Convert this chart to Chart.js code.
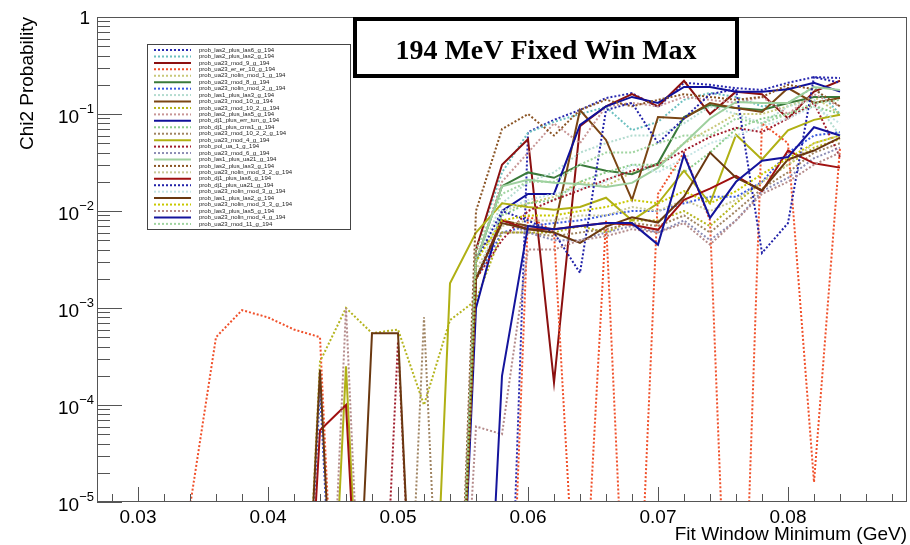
<!DOCTYPE html>
<html>
<head>
<meta charset="UTF-8">
<title>194 MeV Fixed Win Max</title>
<script src="https://cdn.jsdelivr.net/npm/chart.js"></script>
<style>
    body { margin: 0; background: #fff; }
    #wrap { width: 910px; height: 545px; position: relative; }
</style>
</head>
<body>
<div id="wrap"><canvas id="chi2Chart"></canvas></div>
<script>
// values below 1e-5 sit under the axis; LO keeps the line going down off the frame
const LO = 1e-9;

const fitWinMin = [0.034, 0.036, 0.038, 0.040, 0.042, 0.044, 0.046, 0.048, 0.050, 0.052, 0.054, 0.056, 0.058,
                   0.060, 0.062, 0.064, 0.066, 0.068, 0.070, 0.072, 0.074, 0.076, 0.078, 0.080, 0.082, 0.084];

const las2_plus_las6      = [LO, LO, LO, LO, LO, LO, LO, LO, LO, LO, LO, LO, LO, 0.065, 0.087, 0.11, 0.146, 0.164, 0.118, 0.21, 0.2, 0.185, 0.177, 0.21, 0.24, 0.235];
const las2_plus_las2      = [LO, LO, LO, LO, LO, LO, LO, LO, LO, LO, LO, 0.004, 0.025, 0.064, 0.083, 0.1, 0.118, 0.068, 0.083, 0.14, 0.165, 0.15, 0.12, 0.13, 0.19, 0.1];
const ua23_mod_9          = [LO, LO, LO, LO, LO, LO, LO, LO, LO, LO, LO, 0.004, 0.03, 0.055, 1.7e-4, 0.075, 0.12, 0.16, 0.12, 0.22, 0.1, 0.17, 0.16, 0.09, 0.17, 0.22];
const ua23_er_er_10       = [9e-6, 5e-4, 9.5e-4, 8e-4, 6e-4, 5e-4, LO, LO, LO, LO, LO, LO, LO, 0.009, 0.006, 1e-7, 0.008, 1e-8, 0.015, 0.04, 0.008, LO, 0.08, 0.05, 1.6e-5, 0.045];
const ua23_nolin_mod_1    = [LO, LO, LO, LO, LO, LO, LO, LO, LO, LO, LO, 0.002, 0.01, 0.012, 0.014, 0.02, 0.018, 0.025, 0.03, 0.05, 0.07, 0.1, 0.1, 0.12, 0.15, 0.1];
const ua23_mod_8          = [LO, LO, LO, LO, LO, LO, LO, LO, LO, LO, LO, 0.003, 0.018, 0.025, 0.022, 0.03, 0.026, 0.024, 0.031, 0.093, 0.124, 0.115, 0.11, 0.13, 0.15, 0.15];
const ua23_nolin_mod_2    = [LO, LO, LO, LO, LO, 1.4e-4, LO, LO, LO, LO, LO, 0.002, 0.006, 0.007, 0.0075, 0.008, 0.009, 0.01, 0.01, 0.012, 0.014, 0.014, 0.02, 0.04, 0.06, 0.065];
const las1_plus_las3      = [LO, LO, LO, LO, LO, LO, LO, LO, LO, LO, LO, 0.003, 0.012, 0.02, 0.025, 0.04, 0.05, 0.06, 0.06, 0.08, 0.12, 0.1, 0.08, 0.12, 0.14, 0.06];
const ua23_mod_10         = [LO, LO, LO, LO, LO, LO, LO, LO, LO, LO, LO, 0.002, 0.008, 0.007, 0.0065, 0.11, 0.054, 0.013, 0.093, 0.09, 0.13, 0.115, 0.105, 0.185, 0.13, 0.146];
const ua23_mod_10_2       = [LO, LO, LO, LO, LO, 2.8e-4, 1e-3, 5.5e-4, 6e-4, 1e-4, 7.5e-4, 1.2e-3, 0.006, 0.006, 0.006, 0.007, 0.006, 0.008, 0.008, 0.01, 0.007, 0.012, 0.02, 0.03, 0.045, 0.055];
const las2_plus_las5      = [LO, LO, LO, LO, LO, LO, LO, LO, LO, LO, LO, 0.003, 0.02, 0.04, 0.08, 0.05, 0.12, 0.13, 0.12, 0.15, 0.14, 0.13, 0.15, 0.1, 0.16, 0.12];
const dj1_plus_err_tun    = [LO, LO, LO, LO, LO, LO, LO, LO, LO, LO, LO, 0.001, 0.01, 0.015, 0.015, 0.077, 0.12, 0.15, 0.13, 0.19, 0.19, 0.17, 0.17, 0.18, 0.21, 0.17];
const dj1_plus_cms1       = [LO, LO, LO, LO, LO, LO, LO, LO, LO, LO, LO, 0.002, 0.009, 0.012, 0.013, 0.02, 0.025, 0.03, 0.03, 0.025, 0.04, 0.07, 0.09, 0.1, 0.12, 0.1];
const ua23_mod_10_2_2     = [LO, LO, LO, LO, LO, LO, LO, LO, LO, 8e-4, LO, 0.004, 0.006, 0.006, 0.0055, 0.006, 0.0065, 0.0075, 0.007, 0.009, 0.006, 0.01, 0.017, 0.025, 0.04, 0.05];
const ua23_mod_4          = [LO, LO, LO, LO, LO, LO, 2.5e-4, LO, LO, LO, 0.0018, 0.006, 0.012, 0.011, 0.0103, 0.011, 0.0137, 0.008, 0.012, 0.026, 0.012, 0.061, 0.034, 0.068, 0.087, 0.098];
const pol_ua_1            = [LO, LO, LO, LO, LO, LO, LO, LO, 4.5e-4, LO, LO, 0.002, 0.005, 0.01, 0.013, 0.0164, 0.021, 0.026, 0.03, 0.042, 0.058, 0.072, 0.065, 0.09, 0.13, 0.036];
const ua23_mod_6          = [LO, LO, LO, LO, LO, LO, LO, LO, LO, LO, LO, 0.002, 0.008, 0.006, 0.005, 0.005, 0.006, 0.007, 0.006, 0.008, 0.005, 0.008, 0.016, 0.022, 0.035, 0.045];
const las1_plus_ua21      = [LO, LO, LO, LO, LO, LO, LO, LO, LO, LO, LO, 0.003, 0.018, 0.021, 0.0195, 0.019, 0.0177, 0.0195, 0.028, 0.05, 0.09, 0.133, 0.13, 0.13, 0.19, 0.177];
const las2_plus_las3      = [LO, LO, LO, LO, LO, LO, LO, LO, LO, LO, LO, 0.01, 0.07, 0.1, 0.06, 0.11, 0.14, 0.12, 0.14, 0.16, 0.15, 0.14, 0.15, 0.2, 0.18, 0.12];
const ua23_nolin_mod_3_2  = [LO, LO, LO, LO, LO, LO, LO, LO, LO, LO, LO, 0.0025, 0.007, 0.008, 0.008, 0.009, 0.009, 0.011, 0.01, 0.013, 0.01, 0.013, 0.02, 0.03, 0.05, 0.06];
const dj1_plus_las6       = [LO, LO, LO, LO, LO, 5.5e-5, 1e-4, LO, LO, LO, LO, 0.002, 0.008, 0.0065, 0.0065, 0.007, 0.0075, 0.0072, 0.0064, 0.013, 0.017, 0.023, 0.016, 0.042, 0.031, 0.028];
const dj1_plus_ua21       = [LO, LO, LO, LO, LO, LO, LO, LO, LO, LO, LO, 0.003, 0.01, 0.008, 0.006, 0.0023, 0.11, 0.13, 0.05, 0.09, 0.16, 0.18, 0.0037, 0.0075, 0.24, 0.21];
const ua23_nolin_mod_3    = [LO, LO, LO, LO, LO, LO, LO, LO, LO, LO, LO, 0.002, 0.01, 0.013, 0.015, 0.017, 0.02, 0.03, 0.025, 0.035, 0.05, 0.06, 0.075, 0.09, 0.12, 0.08];
const las1_plus_las2      = [LO, LO, LO, LO, LO, 2.3e-4, LO, 5.5e-4, 5.5e-4, LO, LO, 0.002, 0.0075, 0.0065, 0.006, 0.0047, 0.0069, 0.0086, 0.0076, 0.014, 0.04, 0.022, 0.0164, 0.034, 0.042, 0.057];
const ua23_nolin_mod_3_3  = [LO, LO, LO, LO, LO, LO, LO, LO, LO, LO, LO, 0.003, 0.008, 0.009, 0.009, 0.01, 0.011, 0.013, 0.012, 0.016, 0.012, 0.016, 0.024, 0.035, 0.05, 0.06];
const las3_plus_las5      = [LO, LO, LO, LO, LO, LO, 1e-3, LO, LO, LO, LO, 6e-5, 5e-5, 0.004, 0.004, 0.005, 0.0055, 0.0065, 0.006, 0.0075, 0.0045, 0.008, 0.015, 0.02, 0.03, 0.04];
const ua23_nolin_mod_4    = [LO, LO, LO, LO, LO, LO, LO, LO, LO, LO, LO, LO, 2e-4, 0.007, 0.0065, 0.007, 0.0075, 0.0075, 0.0045, 0.038, 0.0085, 0.02, 0.033, 0.036, 0.073, 0.06];
const ua23_mod_11         = [LO, LO, LO, LO, LO, LO, LO, LO, LO, LO, LO, 0.004, 0.015, 0.02, 0.02, 0.03, 0.04, 0.04, 0.05, 0.06, 0.06, 0.09, 0.08, 0.1, 0.13, 0.14];

const seriesNames = [
    'prob_las2_plus_las6_g_194', 'prob_las2_plus_las2_g_194', 'prob_ua23_mod_9_g_194', 'prob_ua23_er_er_10_g_194',
    'prob_ua23_nolin_mod_1_g_194', 'prob_ua23_mod_8_g_194', 'prob_ua23_nolin_mod_2_g_194', 'prob_las1_plus_las3_g_194',
    'prob_ua23_mod_10_g_194', 'prob_ua23_mod_10_2_g_194', 'prob_las2_plus_las5_g_194', 'prob_dj1_plus_err_tun_g_194',
    'prob_dj1_plus_cms1_g_194', 'prob_ua23_mod_10_2_2_g_194', 'prob_ua23_mod_4_g_194', 'prob_pol_ua_1_g_194',
    'prob_ua23_mod_6_g_194', 'prob_las1_plus_ua21_g_194', 'prob_las2_plus_las3_g_194', 'prob_ua23_nolin_mod_3_2_g_194',
    'prob_dj1_plus_las6_g_194', 'prob_dj1_plus_ua21_g_194', 'prob_ua23_nolin_mod_3_g_194', 'prob_las1_plus_las2_g_194',
    'prob_ua23_nolin_mod_3_3_g_194', 'prob_las3_plus_las5_g_194', 'prob_ua23_nolin_mod_4_g_194', 'prob_ua23_mod_11_g_194'
];
const seriesData = [
    las2_plus_las6, las2_plus_las2, ua23_mod_9, ua23_er_er_10, ua23_nolin_mod_1, ua23_mod_8, ua23_nolin_mod_2,
    las1_plus_las3, ua23_mod_10, ua23_mod_10_2, las2_plus_las5, dj1_plus_err_tun, dj1_plus_cms1, ua23_mod_10_2_2,
    ua23_mod_4, pol_ua_1, ua23_mod_6, las1_plus_ua21, las2_plus_las3, ua23_nolin_mod_3_2, dj1_plus_las6,
    dj1_plus_ua21, ua23_nolin_mod_3, las1_plus_las2, ua23_nolin_mod_3_3, las3_plus_las5, ua23_nolin_mod_4, ua23_mod_11
];
const seriesColors = [
    '#2b2bb0', '#6cc0c0', '#8b1010', '#f0502a', '#c8c87a', '#3a7a3a', '#3a5ae0',
    '#b4dcd0', '#7a4514', '#b4b41e', '#c89696', '#10109a', '#8ccc8c', '#a08462',
    '#b0b014', '#a01c2c', '#8c8cb4', '#9ed09e', '#8a5424', '#c8c896', '#a01010',
    '#2020a8', '#c4e4e4', '#6a3810', '#c8c800', '#b48a8a', '#14149c', '#a0d4a0'
];
const seriesDotted = [
    true, true, false, true, true, false, true,
    true, false, true, true, false, true, true,
    false, true, true, false, true, true, false,
    true, true, false, true, true, false, true
];

const xTicks = [0.03, 0.04, 0.05, 0.06, 0.07, 0.08];
const xTickLabels = ['0.03', '0.04', '0.05', '0.06', '0.07', '0.08'];
const yTicks = [1, 1e-1, 1e-2, 1e-3, 1e-4, 1e-5];
const yTickExps = ['', '\u22121', '\u22122', '\u22123', '\u22124', '\u22125'];

const titleText = '194 MeV Fixed Win Max';
const xTitle = 'Fit Window Minimum (GeV)';
const yTitle = 'Chi2 Probability';

const SANS = "'Liberation Sans', Arial, sans-serif";

const datasets = seriesNames.map((name, k) => ({
    label: name,
    data: fitWinMin.map((x, i) => ({ x: x, y: seriesData[k][i] })),
    borderColor: seriesColors[k],
    borderWidth: 2,
    borderDash: seriesDotted[k] ? [2, 2] : [],
    pointRadius: 0,
    tension: 0,
    fill: false,
    clip: 0,
    order: seriesNames.length - k
}));

// ROOT style frame, inward ticks, labels, legend and title pave
const rootFrame = {
    id: 'rootFrame',
    afterDatasetsDraw(chart) {
        const ctx = chart.ctx;
        const a = chart.chartArea;
        const xs = chart.scales.x, ys = chart.scales.y;
        ctx.save();

        ctx.strokeStyle = '#555';
        ctx.lineWidth = 1;
        ctx.strokeRect(a.left + 0.5, a.top + 0.5, a.right - a.left - 1, a.bottom - a.top - 1);

        // x ticks every 0.002, majors every 0.01
        ctx.beginPath();
        for (let k = 14; k <= 44; k++) {
            const px = Math.round(xs.getPixelForValue(k * 0.002)) + 0.5;
            if (px < a.left || px > a.right) continue;
            const len = (k % 5 === 0) ? 15 : 8;
            ctx.moveTo(px, a.bottom);
            ctx.lineTo(px, a.bottom - len);
        }
        // y ticks: decades long, 2..9 short
        for (let d = -5; d <= 0; d++) {
            const py = Math.round(ys.getPixelForValue(Math.pow(10, d))) + 0.5;
            ctx.moveTo(a.left, py);
            ctx.lineTo(a.left + 25, py);
            if (d === 0) continue;
            for (let m = 2; m <= 9; m++) {
                const pm = Math.round(ys.getPixelForValue(m * Math.pow(10, d))) + 0.5;
                ctx.moveTo(a.left, pm);
                ctx.lineTo(a.left + 13, pm);
            }
        }
        ctx.stroke();

        ctx.fillStyle = '#000';
        ctx.font = '19px ' + SANS;
        ctx.textAlign = 'center';
        ctx.textBaseline = 'alphabetic';
        xTicks.forEach((v, i) => {
            ctx.fillText(xTickLabels[i], xs.getPixelForValue(v), a.bottom + 21);
        });

        yTicks.forEach((v, i) => {
            const py = ys.getPixelForValue(v);
            ctx.textAlign = 'right';
            if (!yTickExps[i]) {
                ctx.font = '19px ' + SANS;
                ctx.fillText('1', 90, py + 7);
                return;
            }
            ctx.font = '13px ' + SANS;
            const ew = ctx.measureText(yTickExps[i]).width;
            ctx.fillText(yTickExps[i], 94, py - 1);
            ctx.font = '19px ' + SANS;
            ctx.fillText('10', 94 - ew, py + 9);
        });

        // axis titles
        ctx.font = '19px ' + SANS;
        ctx.textAlign = 'right';
        ctx.fillText(xTitle, a.right, 540);
        ctx.save();
        ctx.translate(33, a.top);
        ctx.rotate(-Math.PI / 2);
        ctx.textAlign = 'right';
        ctx.fillText(yTitle, 0, 0);
        ctx.restore();

        // legend box
        const lx = 147, ly = 44, lw = 203, lh = 185;
        ctx.fillStyle = '#fff';
        ctx.fillRect(lx, ly, lw, lh);
        ctx.strokeStyle = '#444';
        ctx.lineWidth = 1;
        ctx.strokeRect(lx + 0.5, ly + 0.5, lw, lh);
        ctx.font = '6px ' + SANS;
        ctx.textAlign = 'left';
        ctx.textBaseline = 'middle';
        chart.data.datasets.forEach((ds, i) => {
            const ry = ly + 6 + i * 6.44;
            ctx.strokeStyle = ds.borderColor;
            ctx.lineWidth = 2;
            ctx.setLineDash(ds.borderDash);
            ctx.beginPath();
            ctx.moveTo(lx + 7, ry);
            ctx.lineTo(lx + 44, ry);
            ctx.stroke();
            ctx.setLineDash([]);
            ctx.fillStyle = '#222';
            ctx.fillText(ds.label, lx + 52, ry);
        });

        // title pave
        const tx = 353, ty = 17, tw = 386, th = 61;
        ctx.fillStyle = '#fff';
        ctx.fillRect(tx, ty, tw, th);
        ctx.strokeStyle = '#000';
        ctx.lineWidth = 4;
        ctx.strokeRect(tx + 2, ty + 2, tw - 4, th - 4);
        ctx.fillStyle = '#000';
        ctx.font = "bold 28px 'Liberation Serif', 'Times New Roman', serif";
        ctx.textAlign = 'center';
        ctx.textBaseline = 'alphabetic';
        ctx.fillText(titleText, tx + tw / 2, 59);

        ctx.restore();
    }
};

new Chart(document.getElementById('chi2Chart'), {
    type: 'line',
    data: { datasets: datasets },
    options: {
        responsive: true,
        maintainAspectRatio: false,
        animation: false,
        layout: { padding: { left: 97, right: 3, top: 17, bottom: 43 } },
        plugins: { legend: { display: false }, tooltip: { enabled: false } },
        scales: {
            x: { type: 'linear', min: 0.026846, max: 0.089154, display: false },
            y: { type: 'logarithmic', min: 1e-5, max: 1, display: false }
        }
    },
    plugins: [rootFrame]
});
</script>
</body>
</html>
